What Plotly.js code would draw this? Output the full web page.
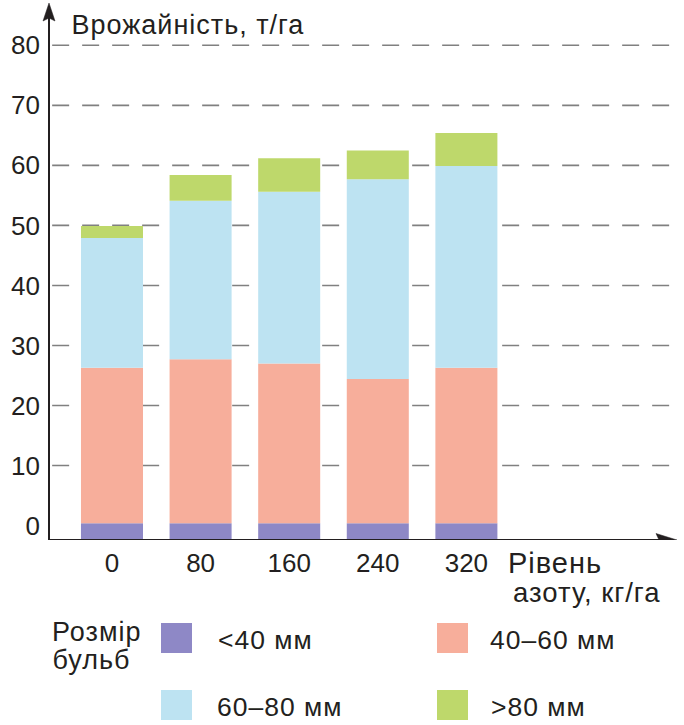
<!DOCTYPE html>
<html>
<head>
<meta charset="utf-8">
<script src="https://cdn.plot.ly/plotly-3.0.1.min.js"></script>
<style>
  html, body { margin: 0; padding: 0; background: #fff; }
  #chart { width: 684px; height: 725px; }
  /* the book's typeface runs wider than Liberation Sans */
  #chart .annotation-text { letter-spacing: 1px; }
</style>
</head>
<body>
<div id="chart"></div>
<script>
// nitrogen levels (x categories)
const nitrogenLevels = ["0", "80", "160", "240", "320"];

// yield per bulb size class, t/ha (segment heights, stacked from the axis floor)
const under40 = [2.8, 2.8, 2.8, 2.8, 2.8];
const from40to60 = [25.9, 27.3, 26.6, 24.0, 25.9];
const from60to80 = [21.6, 26.4, 28.6, 33.3, 33.6];
const over80 = [2.0, 4.3, 5.6, 4.8, 5.5];

const sizeLabels = ["<40 мм", "40–60 мм", "60–80 мм", ">80 мм"];
const yTicks = [0, 10, 20, 30, 40, 50, 60, 70, 80];

const PALETTE = ["#8e88c6", "#f7ae9b", "#bde3f2", "#bed86b"];
const FONT = "Liberation Sans, Arial, Helvetica, sans-serif";
const INK = "#231f20";
const AXIS_FLOOR = -2.4;   // the drawn x axis sits a little below zero

// plot area in page pixels
const PL = 49, PR = 680, PT = 3, PB = 540;
const px = x => (x - PL) / (PR - PL);
const py = y => (PB - y) / (PB - PT);
const esc = s => s.replace(/</g, "&lt;").replace(/>/g, "&gt;");

const series = [under40, from40to60, from60to80, over80];
let running = nitrogenLevels.map(() => AXIS_FLOOR);
const traces = series.map((vals, i) => {
    const base = running.slice();
    running = running.map((b, k) => b + vals[k]);
    return {
        type: "bar",
        x: nitrogenLevels,
        y: vals,
        base: base,
        name: sizeLabels[i],
        marker: {color: PALETTE[i], line: {width: 0}},
        hoverinfo: "skip",
        showlegend: false
    };
});

// dashed grid lines (no line at zero)
const shapes = yTicks.filter(v => v > 0).map(v => ({
    type: "line", layer: "below",
    xref: "paper", x0: 0.005, x1: 1,
    yref: "y", y0: v, y1: v,
    line: {color: "#808080", width: 1.6, dash: "17px,13px"}
}));

// axes with arrows
shapes.push(
    {type: "line", xref: "paper", yref: "y", x0: 0, x1: px(662), y0: AXIS_FLOOR, y1: AXIS_FLOOR,
     line: {color: INK, width: 2}},
    {type: "path", xref: "paper", yref: "y", xsizemode: "pixel", ysizemode: "pixel",
     xanchor: px(677), yanchor: AXIS_FLOOR,
     path: "M0,0L-21,6.5L-18,0L-21,-6.5Z", fillcolor: INK, line: {color: INK, width: 0.5}},
    {type: "line", xref: "paper", yref: "paper", x0: 0, x1: 0, y0: 0, y1: py(16),
     line: {color: INK, width: 2}},
    {type: "path", xref: "paper", yref: "paper", xsizemode: "pixel", ysizemode: "pixel",
     xanchor: 0, yanchor: 1,
     path: "M0,0L-6,-18L0,-15L6,-18Z", fillcolor: INK, line: {color: INK, width: 0.5}}
);

const annotations = [
    {text: "Врожайність, т/га", x: px(78), y: py(25), xanchor: "left", yanchor: "middle"},
    {text: "Рівень", x: px(509), y: py(563), xanchor: "left", yanchor: "middle", font: {size: 29}},
    {text: "азоту, кг/га", x: px(517), y: py(592), xanchor: "left", yanchor: "middle", font: {size: 27.5}},
    {text: "Розмір", x: px(53), y: py(632), xanchor: "left", yanchor: "middle"},
    {text: "бульб", x: px(53), y: py(660), xanchor: "left", yanchor: "middle"}
];

// legend built by hand: big square swatches in two columns
const swatchX = [161, 437], textX = [219, 492], rowTop = [623, 690];
sizeLabels.forEach((lab, i) => {
    const c = i % 2, r = Math.floor(i / 2);
    shapes.push({
        type: "rect", xref: "paper", yref: "paper",
        x0: px(swatchX[c]), x1: px(swatchX[c] + 31),
        y0: py(rowTop[r]), y1: py(rowTop[r] + 30),
        fillcolor: PALETTE[i], line: {width: 0}
    });
    annotations.push({text: esc(lab), x: px(textX[c]), y: py(rowTop[r] + 17),
                      xanchor: "left", yanchor: "middle", font: {size: 26.5}});
});
annotations.forEach(a => {
    a.xref = "paper"; a.yref = "paper"; a.showarrow = false;
    a.font = Object.assign({family: FONT, size: 27, color: INK}, a.font || {});
});

const layout = {
    width: 684, height: 725,
    margin: {l: PL, r: 684 - PR, t: PT, b: 725 - PB},
    paper_bgcolor: "#fff", plot_bgcolor: "rgba(0,0,0,0)",
    barmode: "overlay", bargap: 0.3,
    font: {family: FONT, size: 26, color: INK},
    xaxis: {
        type: "category",
        range: [-0.711, 6.411],
        showgrid: false, zeroline: false, showline: false,
        ticks: "", ticklabelstandoff: 5,
        tickfont: {family: FONT, size: 26, color: INK},
        fixedrange: true
    },
    yaxis: {
        range: [AXIS_FLOOR, 87.05],
        tickvals: yTicks,
        showgrid: false, zeroline: false, showline: false,
        ticks: "", ticklabelstandoff: 8,
        tickfont: {family: FONT, size: 26, color: INK},
        fixedrange: true
    },
    shapes: shapes,
    annotations: annotations,
    showlegend: false
};

Plotly.newPlot("chart", traces, layout, {displayModeBar: false, staticPlot: true});
</script>
</body>
</html>
